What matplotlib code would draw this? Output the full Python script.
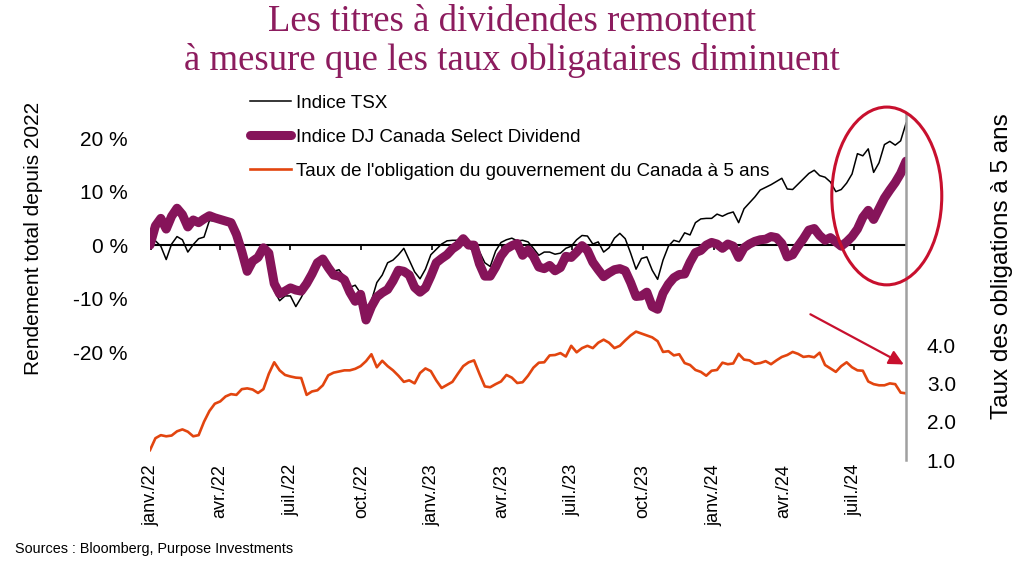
import numpy as np
import pandas as pd
import matplotlib
matplotlib.use("Agg")
import matplotlib.pyplot as plt
from matplotlib.patches import Ellipse

plt.rcParams['font.family'] = ['Liberation Sans', 'DejaVu Sans']

# weekly observations, total return since end of 2021 (%) and 5y GoC yield (%)
dates = pd.date_range("2021-12-31", periods=141, freq="7D")

tsx = [0.0, 0.8, -0.2, -2.7, 0.2, 1.6, 1.0, -1.3, 0.1, 1.2,
       1.5, 4.6, 4.5, 4.5, 4.2, 3.8, 1.8, -0.8, -5.3, -3.5,
       -3.0, -0.7, -2.8, -8.5, -10.4, -9.5, -9.5, -11.5, -9.8, -7.8,
       -5.5, -3.7, -3.1, -4.3, -4.9, -4.6, -6.0, -7.9, -7.5, -9.0,
       -13.8, -10.4, -7.0, -5.6, -3.3, -2.8, -1.8, -0.6, -2.8, -5.0,
       -6.3, -4.5, -1.8, -0.8, 0.2, 0.8, 0.9, 0.9, 1.0, -0.4,
       -0.4, -1.2, -3.3, -4.0, -1.1, 0.5, 1.0, 1.3, 0.8, 0.9,
       0.6, -0.6, -1.9, -1.3, -1.3, -1.7, -1.5, -0.6, -0.2, 1.0,
       1.8, 1.7, 0.2, 0.6, -1.3, -0.5, 1.3, 2.2, 1.2, -1.5,
       -4.5, -2.5, -2.2, -4.7, -6.4, -2.8, -0.2, 0.9, 0.6, 2.3,
       1.9, 4.2, 4.9, 5.0, 5.0, 5.8, 5.4, 5.9, 6.2, 4.2,
       6.8, 7.9, 9.0, 10.3, 10.8, 11.3, 11.9, 12.5, 10.5, 10.4,
       11.4, 12.4, 13.4, 14.0, 13.0, 12.7, 11.8, 10.0, 10.4, 11.6,
       13.3, 17.1, 16.7, 18.0, 13.6, 15.4, 18.8, 19.4, 18.7, 19.5,
       22.8]

dj = [0.0, 3.6, 5.0, 3.0, 5.4, 6.9, 5.7, 3.4, 4.7, 4.2,
      4.9, 5.5, 5.1, 4.8, 4.5, 4.2, 2.0, -1.2, -4.9, -3.0,
      -2.3, -0.5, -1.5, -7.2, -9.1, -8.6, -8.0, -8.4, -8.6, -7.2,
      -5.4, -3.3, -2.6, -4.2, -5.6, -5.8, -6.5, -8.8, -10.5, -9.2,
      -14.0, -11.5, -9.7, -8.9, -8.3, -6.7, -4.7, -4.9, -5.6, -7.9,
      -8.8, -8.0, -5.8, -3.3, -2.5, -1.8, -0.7, 0.0, 1.2, 0.0,
      0.0, -3.5, -5.8, -5.8, -4.1, -2.0, -0.7, -0.1, 0.3, -1.9,
      -0.9, -2.1, -4.1, -4.4, -3.8, -4.8, -4.2, -2.1, -2.3, -1.3,
      -0.1, -1.0, -3.2, -4.6, -5.9, -5.2, -4.6, -4.4, -4.8, -7.0,
      -9.6, -9.5, -8.8, -11.5, -12.0, -9.0, -7.3, -6.1, -5.5, -5.4,
      -3.2, -1.4, -1.0, 0.0, 0.5, 0.2, -0.6, 0.2, -0.2, -2.3,
      -0.5, 0.2, 0.7, 1.0, 1.1, 1.6, 1.4, 0.3, -2.2, -1.8,
      -0.2, 1.2, 2.8, 3.1, 1.8, 0.9, 1.4, 0.6, -0.2, 0.6,
      1.6, 3.0, 5.2, 6.5, 4.8, 6.8, 8.8, 10.3, 11.7, 13.4,
      15.7]

bond = [1.26, 1.57, 1.65, 1.62, 1.64, 1.75, 1.80, 1.74, 1.62, 1.65,
        2.00, 2.28, 2.47, 2.53, 2.66, 2.72, 2.70, 2.85, 2.87, 2.84,
        2.75, 2.85, 3.25, 3.55, 3.34, 3.22, 3.18, 3.15, 3.14, 2.70,
        2.79, 2.82, 2.95, 3.21, 3.28, 3.31, 3.34, 3.34, 3.38, 3.45,
        3.58, 3.76, 3.42, 3.59, 3.45, 3.34, 3.20, 3.04, 3.08, 3.00,
        3.27, 3.39, 3.32, 3.08, 2.88, 2.96, 3.04, 3.25, 3.45, 3.55,
        3.60, 3.25, 2.92, 2.90, 2.98, 3.05, 3.22, 3.15, 3.01, 3.03,
        3.20, 3.41, 3.54, 3.55, 3.73, 3.74, 3.79, 3.70, 3.98, 3.81,
        3.92, 3.98, 3.92, 4.06, 4.14, 4.06, 3.92, 3.98, 4.12, 4.25,
        4.35, 4.30, 4.25, 4.20, 4.10, 3.82, 3.84, 3.73, 3.76, 3.53,
        3.48, 3.35, 3.30, 3.20, 3.33, 3.35, 3.54, 3.50, 3.52, 3.77,
        3.62, 3.60, 3.51, 3.53, 3.58, 3.50, 3.60, 3.69, 3.74, 3.82,
        3.77, 3.69, 3.71, 3.68, 3.80, 3.48, 3.39, 3.30, 3.45, 3.55,
        3.42, 3.34, 3.33, 3.05, 2.98, 2.95, 2.95, 3.00, 2.98, 2.76,
        2.74]

tick_dates = pd.date_range("2022-01-01", "2024-07-01", freq="QS")
tick_labels = ["janv./22", "avr./22", "juil./22", "oct./22",
               "janv./23", "avr./23", "juil./23", "oct./23",
               "janv./24", "avr./24", "juil./24"]
pct_ticks = [-20, -10, 0, 10, 20]
rate_ticks = [1.0, 2.0, 3.0, 4.0]

purple = "#86145A"
orange = "#E2450F"
red = "#C8102E"
title_color = "#8C1C5E"

fig = plt.figure(figsize=(10.24, 5.68), dpi=100)
ax = fig.add_axes([0.1465, 0.190, 0.7383, 0.611])

ax.axhline(0, color="black", lw=1.5, zorder=2)
ax.vlines(tick_dates, -0.9, 0, color="black", lw=1.2, zorder=2)
l1, = ax.plot(dates, tsx, color="black", lw=1.1, zorder=3, label="Indice TSX")
l2, = ax.plot(dates, dj, color=purple, lw=6.5, solid_capstyle="round",
              solid_joinstyle="round", zorder=4,
              label="Indice DJ Canada Select Dividend")

ax.set_xlim(dates[0], dates[-1])
ax.set_ylim(-40.2, 24.7)
ax.set_yticks(pct_ticks)
ax.set_yticklabels([f"{v} %" for v in pct_ticks])
ax.set_xticks(tick_dates)
ax.set_xticklabels(tick_labels, rotation=90)
ax.tick_params(axis="x", length=0, pad=3, labelsize=13)
ax.tick_params(axis="y", length=0, pad=16, labelsize=15)
for s in ax.spines.values():
    s.set_visible(False)
ax.set_ylabel("Rendement total depuis 2022", fontsize=15)
ax.yaxis.set_label_coords(-0.1417, 0.64)

ax2 = ax.twinx()
l3, = ax2.plot(dates, bond, color=orange, lw=1.9,
               label="Taux de l'obligation du gouvernement du Canada à 5 ans")
ax2.set_ylim(1.0, 10.05)
ax2.set_yticks(rate_ticks)
ax2.set_yticklabels([f"{v:.1f}" for v in rate_ticks])
ax2.tick_params(axis="y", length=0, pad=15, labelsize=15)
for name, s in ax2.spines.items():
    s.set_visible(name == "right")
ax2.spines["right"].set_color("#A0A0A0")
ax2.spines["right"].set_linewidth(1.8)
ax2.set_ylabel("Taux des obligations à 5 ans", fontsize=17.5)
ax2.yaxis.set_label_coords(1.1126, 0.559)

fig.legend([l1, l2, l3], [l.get_label() for l in (l1, l2, l3)],
           loc="upper left", bbox_to_anchor=(0.244, 0.833), frameon=False,
           fontsize=13.5, handlelength=2.2, handletextpad=0.25,
           labelspacing=0.9, borderpad=0, borderaxespad=0)

# highlight of the recent rally and falling yields
fig.add_artist(Ellipse((0.866, 0.655), 0.1074, 0.313, transform=fig.transFigure,
                       fill=False, edgecolor=red, lw=2.2))
ax.annotate("", xy=(0.885, 0.356), xytext=(0.789, 0.449),
            xycoords="figure fraction", textcoords="figure fraction",
            arrowprops=dict(arrowstyle="-|>", color=red, lw=1.6, mutation_scale=22))

fig.text(0.5, 1 - 22 / 568, "Les titres à dividendes remontent", ha="center",
         va="center", fontsize=26.5, family="Liberation Serif", color=title_color)
fig.text(0.5, 1 - 60 / 568, "à mesure que les taux obligataires diminuent",
         ha="center", va="center", fontsize=26.5, family="Liberation Serif",
         color=title_color)
fig.text(15 / 1024, 1 - 549 / 568, "Sources : Bloomberg, Purpose Investments",
         fontsize=10.4, va="center")

fig.savefig("out.png", dpi=100)
